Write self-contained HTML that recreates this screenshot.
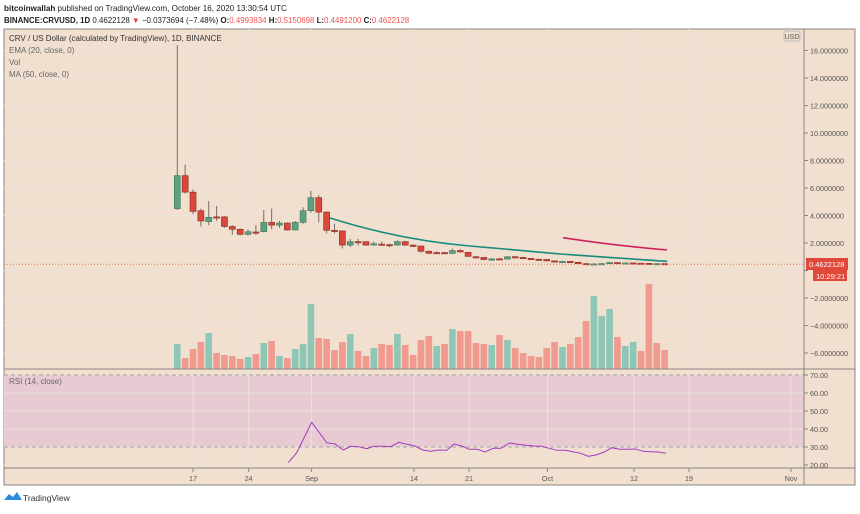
<!DOCTYPE html>
<html><head><meta charset="utf-8"><style>
body{margin:0;width:860px;height:509px;background:#fff;overflow:hidden;font-family:"Liberation Sans",sans-serif}
svg text{font-family:"Liberation Sans",sans-serif}
</style></head><body>
<svg id="s" width="860" height="509" xmlns="http://www.w3.org/2000/svg">
<rect x="0" y="0" width="860" height="509" fill="#fff"/>
<text x="4" y="11" font-size="8.1" fill="#222"><tspan font-weight="bold">bitcoinwallah</tspan> published on TradingView.com, October 16, 2020 13:30:54 UTC</text>
<text x="4" y="23" font-size="7.9" fill="#222"><tspan font-weight="bold">BINANCE:CRVUSD, 1D</tspan> 0.4622128 <tspan fill="#e04040">▼</tspan> −0.0373694 (−7.48%) <tspan font-weight="bold">O:</tspan><tspan fill="#ef5350">0.4993834</tspan> <tspan font-weight="bold">H:</tspan><tspan fill="#ef5350">0.5150698</tspan> <tspan font-weight="bold">L:</tspan><tspan fill="#ef5350">0.4491200</tspan> <tspan font-weight="bold">C:</tspan><tspan fill="#ef5350">0.4622128</tspan></text>
<rect x="4" y="29" width="851" height="456" fill="#f1dfcf" stroke="#8a8580" stroke-width="1"/>
<rect x="4" y="375" width="800" height="72" fill="#e8cad3"/>
<g id="grid" stroke="#e9e3dc" stroke-width="1"></g>
<line x1="4" y1="375" x2="804" y2="375" stroke="#a9a4a0" stroke-dasharray="4,3"/>
<line x1="4" y1="447" x2="804" y2="447" stroke="#a9a4a0" stroke-dasharray="4,3"/>
<g id="vol"></g>
<g id="cdl"></g>
<line x1="4" y1="264.2" x2="804" y2="264.2" stroke="#ef6d5f" stroke-dasharray="1,2" stroke-width="1"/>
<line x1="804" y1="29" x2="804" y2="485" stroke="#8a8580"/>
<line x1="4" y1="369" x2="855" y2="369" stroke="#8a8580"/>
<line x1="4" y1="468" x2="855" y2="468" stroke="#8a8580"/>
<g id="ax" font-size="7.2" fill="#555"></g>
<rect x="784" y="31" width="16" height="10" rx="2" fill="none" stroke="#bbb"/>
<text x="792" y="39" font-size="7" fill="#555" text-anchor="middle">USD</text>
<rect x="806" y="258" width="42" height="12" fill="#e0483a"/>
<text x="809" y="267" font-size="7.5" fill="#fff">0.4622128</text>
<rect x="813" y="270" width="34" height="11" fill="#e0483a"/>
<text x="816" y="279" font-size="7.5" fill="#fff">10:29:21</text>
<text x="9" y="41" font-size="8" fill="#333">CRV / US Dollar (calculated by TradingView), 1D, BINANCE</text>
<text x="9" y="53" font-size="8" fill="#666">EMA (20, close, 0)</text>
<text x="9" y="65" font-size="8" fill="#666">Vol</text>
<text x="9" y="77" font-size="8" fill="#666">MA (50, close, 0)</text>
<text x="9" y="384" font-size="8" fill="#666">RSI (14, close)</text>
<path d="M4 500 l5 -6 l4 3 l4 -5 l5 8 z" fill="#2a8be0"/>
<text x="23" y="501" font-size="8.5" fill="#333">TradingView</text>
</svg>
<script>
const NS="http://www.w3.org/2000/svg";
function el(p,t,a){const e=document.createElementNS(NS,t);for(const k in a)e.setAttribute(k,a[k]);document.getElementById(p).appendChild(e);return e;}
const X=i=>177.3+i*7.86, Y=p=>270.5-13.75*p;
for(let v=16;v>=-6;v-=2){const y=Y(v);el('grid','line',{x1:4,y1:y,x2:804,y2:y});
 if(v!==0){const t=el('ax','text',{x:810,y:y+3});t.textContent=(v<0?'−':'')+Math.abs(v).toFixed(7);}
 el('ax','line',{x1:804,y1:y,x2:808,y2:y,stroke:'#8a8580'});}
for(let r=70;r>=20;r-=10){const y=375+(70-r)*1.8;el('grid','line',{x1:4,y1:y,x2:804,y2:y});
 const t=el('ax','text',{x:810,y:y+3});t.textContent=r.toFixed(2);el('ax','line',{x1:804,y1:y,x2:808,y2:y,stroke:'#8a8580'});}
[[193,'17'],[248.7,'24'],[311.6,'Sep'],[414,'14'],[469,'21'],[547.5,'Oct'],[634,'12'],[689,'19'],[791,'Nov']].forEach(([x,l])=>{
 el('grid','line',{x1:x,y1:29,x2:x,y2:468});el('ax','line',{x1:x,y1:468,x2:x,y2:472,stroke:'#8a8580'});
 const t=el('ax','text',{x:x,y:481,'text-anchor':'middle'});t.textContent=l;});
const C=[[4.5,6.9,16.4,4.4],[6.9,5.7,7.7,5.6],[5.7,4.3,5.9,4.1],[4.35,3.6,4.5,3.2],[3.55,3.87,5.05,3.3],[3.9,3.85,4.7,3.6],[3.9,3.2,3.95,3.1],[3.2,3.0,3.3,2.6],[3.0,2.63,3.05,2.55],[2.63,2.82,3.0,2.55],[2.8,2.78,3.3,2.6],[2.82,3.5,4.4,2.78],[3.5,3.3,4.5,3.0],[3.3,3.45,3.6,3.1],[3.45,2.95,3.5,2.9],[2.95,3.5,3.6,2.9],[3.5,4.35,4.6,3.4],[4.35,5.3,5.8,4.2],[5.3,4.25,5.5,3.5],[4.25,2.92,4.3,2.7],[2.92,2.88,3.4,2.7],[2.88,1.85,2.9,1.6],[1.85,2.1,2.3,1.7],[2.1,2.05,2.3,1.8],[2.1,1.85,2.1,1.8],[1.85,1.95,2.1,1.8],[1.92,1.9,2.1,1.8],[1.88,1.85,1.95,1.7],[1.85,2.1,2.2,1.8],[2.1,1.85,2.15,1.8],[1.85,1.75,1.9,1.7],[1.78,1.4,1.8,1.3],[1.4,1.25,1.45,1.2],[1.3,1.28,1.4,1.2],[1.3,1.25,1.35,1.2],[1.25,1.45,1.6,1.2],[1.45,1.35,1.55,1.3],[1.32,1.03,1.35,1.0],[1.0,0.95,1.05,0.9],[0.95,0.8,0.98,0.75],[0.75,0.85,0.9,0.7],[0.85,0.83,0.9,0.8],[0.83,1.0,1.05,0.8],[1.0,0.95,1.05,0.9],[0.95,0.88,1.0,0.85],[0.88,0.82,0.9,0.78],[0.82,0.8,0.85,0.75],[0.8,0.7,0.82,0.68],[0.7,0.62,0.72,0.6],[0.62,0.66,0.7,0.6],[0.66,0.6,0.68,0.55],[0.6,0.5,0.62,0.48],[0.5,0.45,0.55,0.4],[0.45,0.48,0.52,0.42],[0.48,0.5,0.55,0.45],[0.5,0.58,0.6,0.48],[0.58,0.52,0.6,0.5],[0.52,0.55,0.58,0.5],[0.55,0.53,0.56,0.5],[0.53,0.52,0.55,0.5],[0.52,0.5,0.55,0.45],[0.5,0.5,0.52,0.47],[0.5,0.46,0.515,0.45]];
C.forEach((c,i)=>{const x=X(i),up=c[1]>=c[0],col=up?'#5f9e7e':'#d9483b',bd=up?'#3e7a5c':'#8a2a22';
 el('cdl','line',{x1:x,y1:Y(c[2]),x2:x,y2:Y(c[3]),stroke:'#7a6d68','stroke-width':1});
 const t=Y(Math.max(c[0],c[1])),b=Y(Math.min(c[0],c[1]));
 el('cdl','rect',{x:x-3,y:t,width:6,height:Math.max(b-t,1.2),fill:col,stroke:bd,'stroke-width':0.6});});
const V=[344,358,349,342,333,353,355,356,359,357,354,343,341,356,358,349,344,304,338,339,350,342,334,351,356,348,344,345,334,345,355,340,336,346,344,329,331,331,343,344,345,335,340,348,353,356,357,348,342,347,344,337,321,296,316,309,337,346,342,351,284,343,350];
const G=new Set([0,4,9,11,13,15,16,17,22,25,28,33,35,40,42,49,53,54,55,57,58]);
V.forEach((t,i)=>el('vol','rect',{x:X(i)-3.3,y:t,width:6.6,height:369-t,fill:G.has(i)?'#8fc7b6':'#f09a90'}));
el('cdl','path',{d:'M330 218 Q 400 240 470 246 T 549 253 T 667 261.3',fill:'none',stroke:'#178b7c','stroke-width':1.6});
el('cdl','path',{d:'M563 237.7 Q 610 245 667 250',fill:'none',stroke:'#d0215f','stroke-width':1.6});
const R=[[265,278],[290,248],[335,157],[380,218],[405,222],[430,240],[452,229],[475,230],[500,236],[522,229],[548,229],[572,230],[596,217],[620,223],[643,227],[668,240],[692,244],[716,240],[740,241],[762,222],[785,228],[808,238],[832,238],[855,246],[880,235],[903,235],[928,219],[953,223],[978,226],[1000,228],[1024,229],[1048,235],[1070,241],[1095,241],[1118,245],[1142,250],[1165,259],[1188,255],[1213,246],[1235,233],[1258,238],[1282,238],[1305,237],[1330,244],[1352,245],[1375,246],[1398,250]];
el('cdl','polyline',{points:R.map(p=>(200+p[0]/3).toFixed(1)+','+(370+p[1]/3).toFixed(1)).join(' '),fill:'none',stroke:'#a13bc0','stroke-width':1});
</script>
</body></html>
